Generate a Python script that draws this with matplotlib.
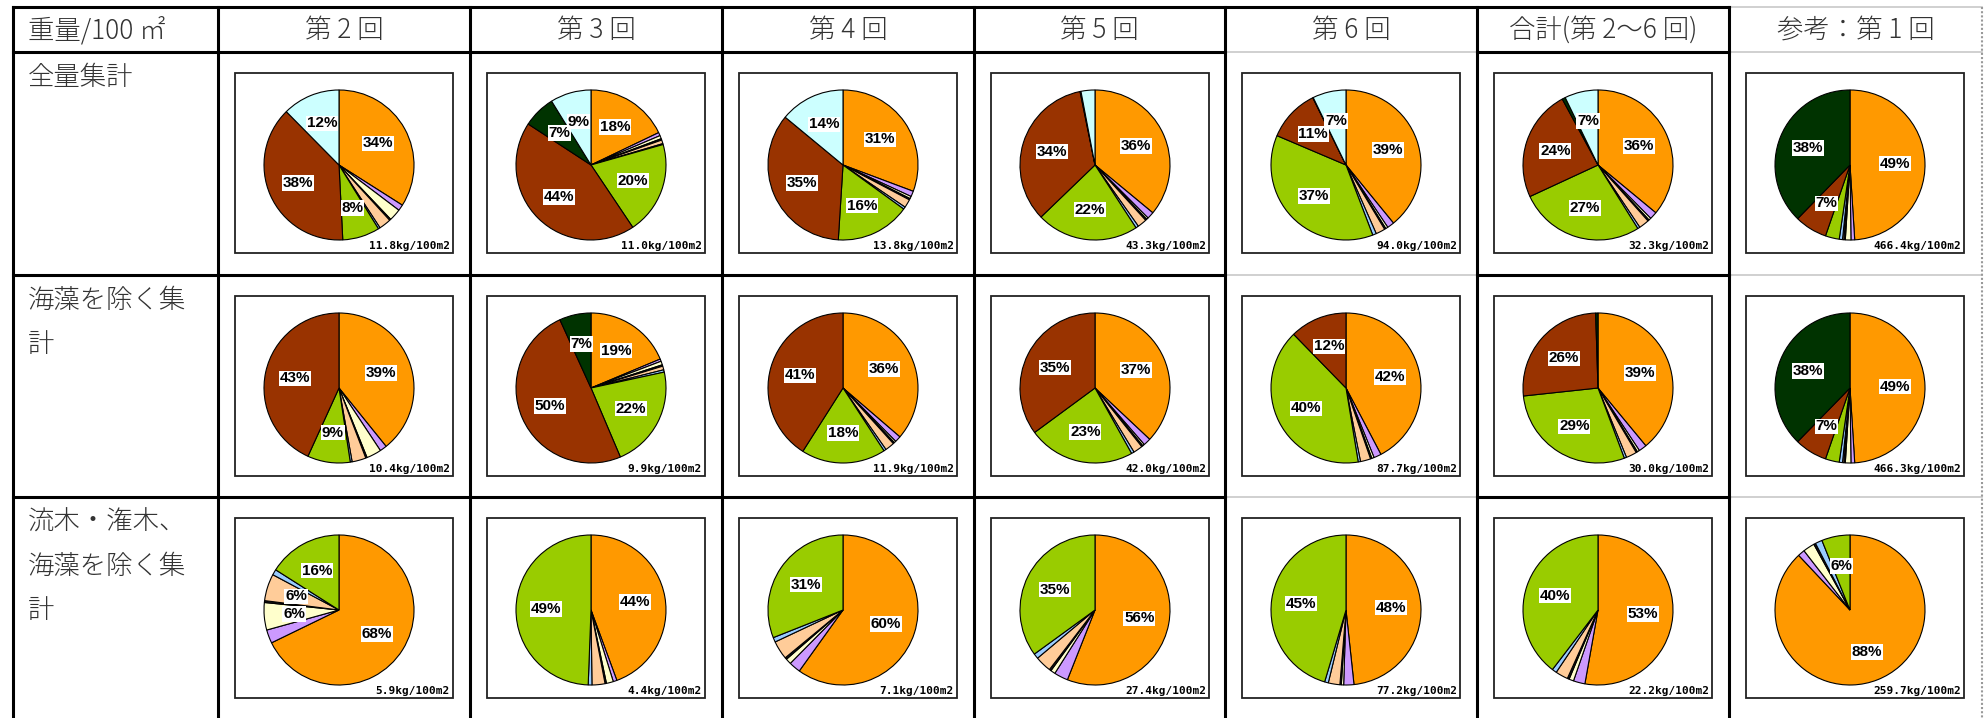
import matplotlib.pyplot as plt
from matplotlib.patches import Rectangle

# Colores de las categorías (orden horario desde las 12)
colores = ['#FF9900', '#CC99FF', '#FFFFCC', '#1A1A1A', '#FFCC99',
           '#99CCFF', '#99CC00', '#993300', '#003300', '#CCFFFF']

titulo_esquina = '重量/100 ㎡'
columnas = ['第 2 回', '第 3 回', '第 4 回', '第 5 回', '第 6 回',
            '合計(第 2～6 回)', '参考：第 1 回']
filas = [['全量集計'],
         ['海藻を除く集', '計'],
         ['流木・潅木、', '海藻を除く集', '計']]

# Porcentajes por columna (cada fila de la tabla)
fila1 = [
    [34.0, 1.3, 2.6, 0.3, 2.6, 0.4, 8.0, 38.4, 0.0, 12.4],
    [17.9, 0.7, 0.7, 0.3, 0.8, 0.2, 20.0, 43.6, 7.0, 8.8],
    [30.7, 1.2, 0.5, 0.3, 1.8, 0.5, 16.0, 35.0, 0.0, 14.0],
    [36.0, 1.5, 0.4, 0.3, 2.0, 0.6, 22.0, 34.0, 0.2, 3.0],
    [39.1, 1.5, 0.5, 0.3, 2.0, 0.8, 37.2, 11.3, 0.1, 7.2],
    [36.0, 1.6, 0.5, 0.3, 2.2, 0.5, 27.0, 24.0, 0.7, 7.2],
    [49.0, 0.8, 1.2, 0.3, 0.3, 0.7, 3.0, 7.0, 37.7, 0.0],
]
fila2 = [
    [39.2, 1.5, 3.2, 0.3, 3.0, 0.4, 9.2, 43.2, 0.0, 0.0],
    [18.7, 0.5, 0.8, 0.3, 0.8, 0.5, 22.0, 49.6, 6.8, 0.0],
    [36.3, 1.3, 0.4, 0.3, 2.0, 0.5, 18.2, 41.0, 0.0, 0.0],
    [37.0, 1.6, 0.4, 0.3, 2.0, 0.6, 23.0, 35.1, 0.0, 0.0],
    [42.3, 1.6, 0.5, 0.3, 2.2, 0.5, 40.3, 12.3, 0.0, 0.0],
    [39.0, 1.7, 0.5, 0.3, 2.3, 0.5, 29.0, 26.2, 0.5, 0.0],
    [49.0, 0.8, 1.2, 0.3, 0.3, 0.7, 3.0, 7.0, 37.7, 0.0],
]
fila3 = [
    [67.8, 2.9, 5.9, 0.4, 5.8, 1.2, 16.0, 0.0, 0.0, 0.0],
    [44.4, 0.8, 1.5, 0.3, 2.8, 0.8, 49.4, 0.0, 0.0, 0.0],
    [59.9, 2.5, 1.2, 0.4, 4.0, 1.0, 31.0, 0.0, 0.0, 0.0],
    [56.0, 3.0, 1.0, 0.4, 3.5, 1.1, 35.0, 0.0, 0.0, 0.0],
    [48.3, 2.2, 0.5, 0.3, 2.5, 0.8, 45.4, 0.0, 0.0, 0.0],
    [52.8, 2.5, 1.0, 0.4, 2.7, 1.0, 39.6, 0.0, 0.0, 0.0],
    [88.0, 1.5, 2.5, 0.4, 0.0, 1.5, 6.1, 0.0, 0.0, 0.0],
]

# Peso total (kg/100m2)
total_fila1 = [11.8, 11.0, 13.8, 43.3, 94.0, 32.3, 466.4]
total_fila2 = [10.4, 9.9, 11.9, 42.0, 87.7, 30.0, 466.3]
total_fila3 = [5.9, 4.4, 7.1, 27.4, 77.2, 22.2, 259.7]

datos = [fila1, fila2, fila3]
totales = [total_fila1, total_fila2, total_fila3]

W, H = 1987, 718
fig = plt.figure(figsize=(W / 100, H / 100), dpi=100)
ax = fig.add_axes([0, 0, 1, 1])
ax.set_xlim(0, W)
ax.set_ylim(H, 0)
ax.axis('off')

fuente_jp = ['Noto Sans CJK JP', 'DejaVu Sans']
color_txt = '#333333'

# Lineas de la tabla
xs = [13, 218, 470, 722, 974, 1225, 1477, 1729]
x_der = 1982
ys = [7, 52, 275, 497]
y_fin = 730
negro = dict(color='black', lw=2.2, solid_capstyle='projecting')
gris = dict(color='#c8c8c8', lw=1.2)

ax.plot([xs[-1], x_der], [ys[0], ys[0]], **gris)
for y in ys[1:]:
    ax.plot([xs[5], xs[6]], [y, y], **gris)
    ax.plot([xs[7], x_der], [y, y], **gris)
ax.plot([x_der, x_der], [ys[0], y_fin], color='#999999', lw=1.5, ls=(0, (1, 1)))
ax.plot([xs[0], xs[-1]], [ys[0], ys[0]], **negro)
for y in ys[1:]:
    ax.plot([xs[0], xs[5]], [y, y], **negro)
    ax.plot([xs[6], xs[7]], [y, y], **negro)
for x in xs:
    ax.plot([x, x], [ys[0], y_fin], **negro)

# Encabezados
ax.text(28, 30, titulo_esquina, fontsize=19, family=fuente_jp,
        fontweight='light', ha='left', va='center', color=color_txt)
bordes = xs[1:] + [x_der]
for j, col in enumerate(columnas):
    cx = (bordes[j] + bordes[j + 1]) / 2
    ax.text(cx, 30, col, fontsize=19, family=fuente_jp, fontweight='light',
            ha='center', va='center', color=color_txt)

for i, lineas in enumerate(filas):
    for k, linea in enumerate(lineas):
        ax.text(28, ys[i + 1] + 25 + k * 44, linea, fontsize=19,
                family=fuente_jp, fontweight='light',
                ha='left', va='center', color=color_txt)


def etiqueta(p):
    return f'{p:.0f}%' if p >= 5 else ''


r = 75
m = 2
for i in range(3):
    for j in range(7):
        bx = bordes[j] + 17
        by = ys[i + 1] + 21
        ax.add_patch(Rectangle((bx, by), 218, 180, fill=False,
                               ec='#222222', lw=1.3))
        ax.text(bx + 215, by + 178, f'{totales[i][j]:.1f}kg/100m2',
                ha='right', va='bottom', fontsize=8, fontweight='bold',
                family='DejaVu Sans Mono')

        cx, cy = bx + 104, by + 92
        pax = fig.add_axes([(cx - r - m) / W, 1 - (cy + r + m) / H,
                            2 * (r + m) / W, 2 * (r + m) / H])
        vals = [v for v in datos[i][j] if v > 0]
        cols = [colores[k] for k, v in enumerate(datos[i][j]) if v > 0]
        _, _, autotexts = pax.pie(
            vals, colors=cols, startangle=90, counterclock=False,
            autopct=etiqueta, pctdistance=0.6,
            wedgeprops=dict(edgecolor='black', linewidth=0.8),
            textprops=dict(fontsize=11, fontweight='bold',
                           family=['Liberation Sans Narrow', 'Liberation Sans']))
        for t in autotexts:
            t.set_bbox(dict(facecolor='white', edgecolor='none', pad=0.6))
        lim = (r + m) / r
        pax.set_xlim(-lim, lim)
        pax.set_ylim(-lim, lim)
        pax.set_aspect('equal')

fig.savefig('out.png', dpi=100)
